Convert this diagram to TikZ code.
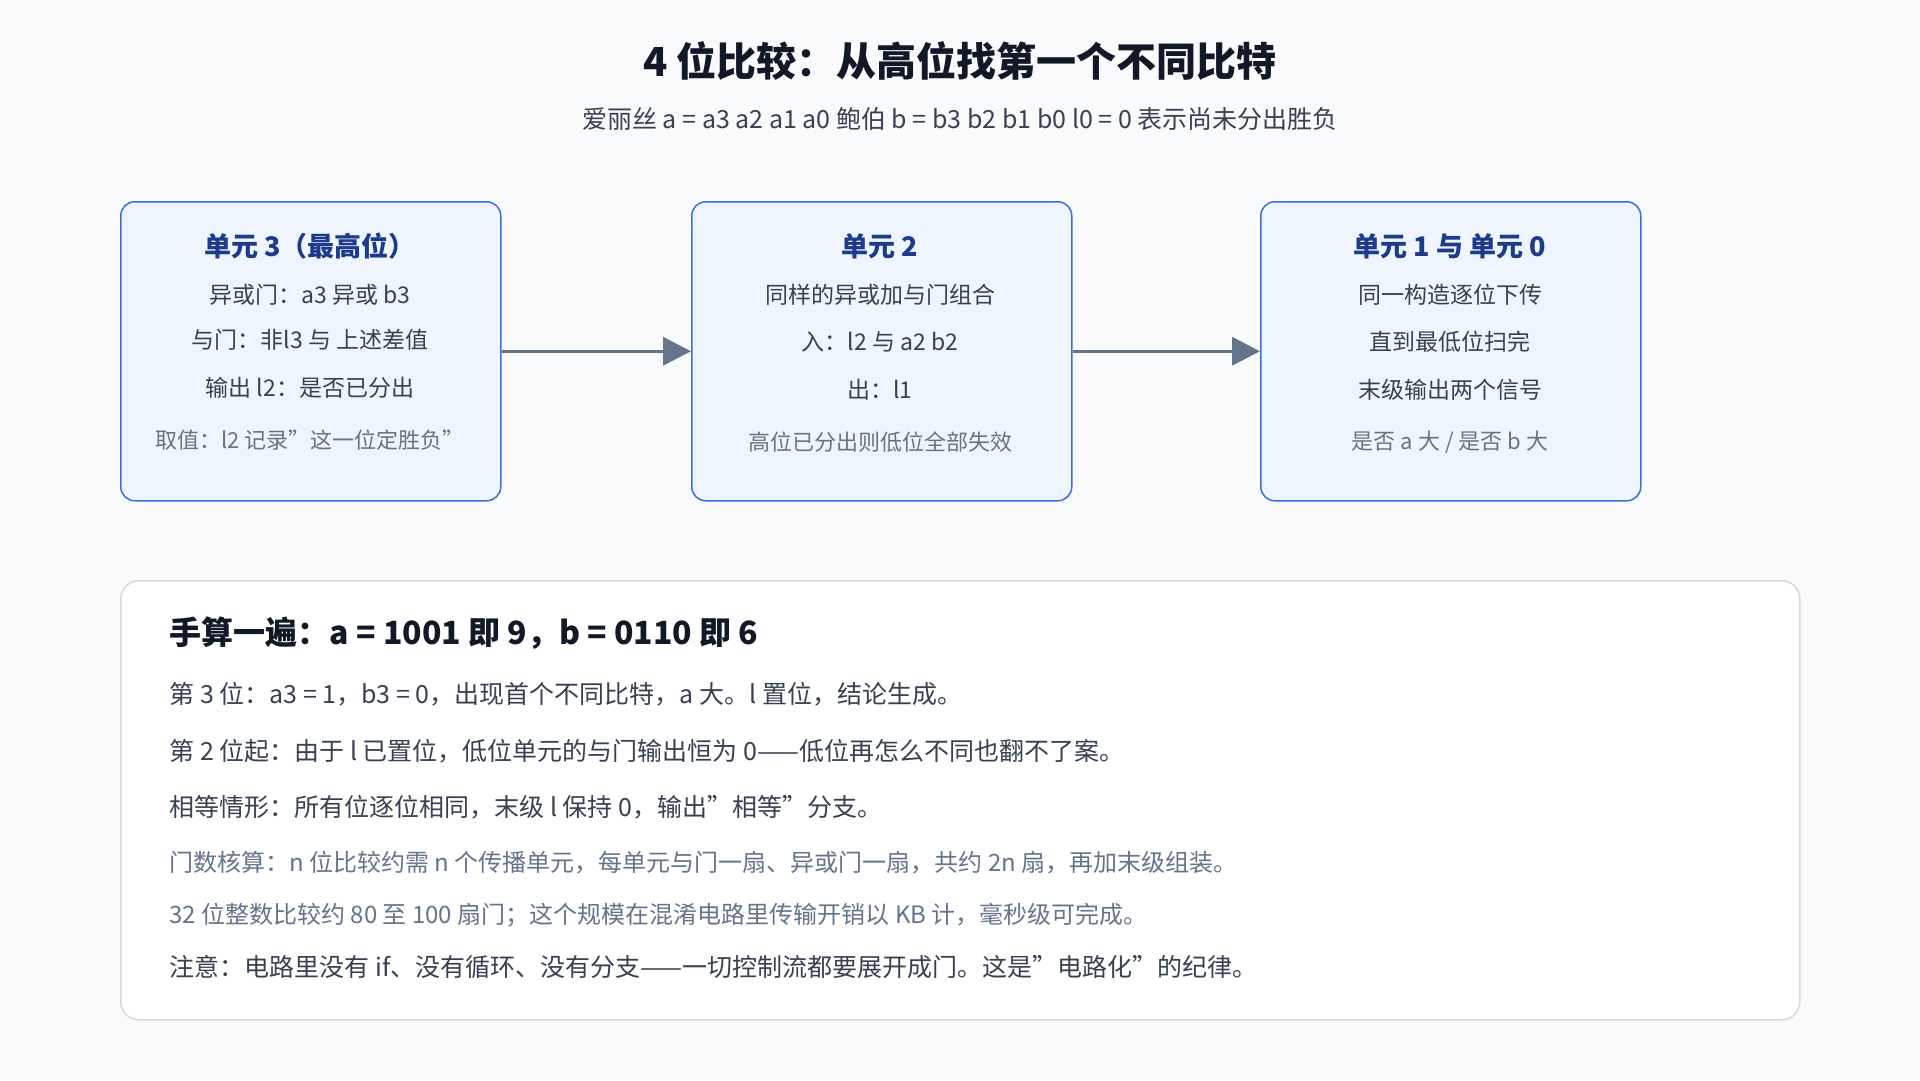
\documentclass[tikz,border=0pt]{standalone}
\usepackage{fontspec}
\setmainfont{Noto Sans CJK SC}
\usetikzlibrary{arrows.meta}
\definecolor{bg}{HTML}{F8FAFC}
\definecolor{boxfill}{HTML}{EEF5FF}
\definecolor{boxline}{HTML}{3B6FE0}
\definecolor{head}{HTML}{1E3A8A}
\definecolor{txt}{HTML}{374151}
\definecolor{muted}{HTML}{6B7280}
\definecolor{slate}{HTML}{64748B}
\definecolor{dark}{HTML}{111827}
\tikzset{
 unit/.style={draw=boxline,line width=1.5pt,fill=boxfill,rounded corners=14pt,minimum width=380pt,minimum height=299pt,anchor=north west},
 hd/.style={font=\fontsize{27}{32}\selectfont\bfseries,text=head},
 ln/.style={font=\fontsize{23}{28}\selectfont,text=txt},
 mt/.style={font=\fontsize{22}{27}\selectfont,text=muted},
 bl/.style={font=\fontsize{25}{30}\selectfont,text=txt,anchor=west},
 bm/.style={font=\fontsize{24}{29}\selectfont,text=slate,anchor=west},
 arr/.style={draw=slate,line width=3.5pt,-{Triangle[length=28pt,width=28pt]}}
}
\begin{document}
\begin{tikzpicture}[x=1pt,y=-1pt]
\fill[bg] (0,0) rectangle (1920,1080);
\useasboundingbox (0,0) rectangle (1920,1080);
\node[font=\fontsize{40}{46}\selectfont\bfseries,text=dark] (title) at (960,61) {4 位比较：从高位找第一个不同比特};
\node[font=\fontsize{25}{30}\selectfont,text=txt] (sub) at (960,119) {爱丽丝 a = a3 a2 a1 a0 鲍伯 b = b3 b2 b1 b0 l0 = 0 表示尚未分出胜负};
\node[unit] (u3) at (120,201) {};
\node[unit] (u2) at (691,201) {};
\node[unit] (u1) at (1260,201) {};
\foreach \n/\x in {u3/310,u2/880,u1/1450}{}
\node[hd] (u3h) at (310,246) {单元 3（最高位）};
\node[ln] (u3a) at (310,295) {异或门：a3 异或 b3};
\node[ln] (u3b) at (310,340) {与门：非l3 与 上述差值};
\node[ln] (u3c) at (310,388) {输出 l2：是否已分出};
\node[mt] (u3d) at (310,440) {取值：l2 记录"这一位定胜负"};
\node[hd] (u2h) at (880,246) {单元 2};
\node[ln] (u2a) at (880,295) {同样的异或加与门组合};
\node[ln] (u2b) at (880,342) {入：l2 与 a2 b2};
\node[ln] (u2c) at (880,390) {出：l1};
\node[mt] (u2d) at (880,442) {高位已分出则低位全部失效};
\node[hd] (u1h) at (1450,246) {单元 1 与 单元 0};
\node[ln] (u1a) at (1450,295) {同一构造逐位下传};
\node[ln] (u1b) at (1450,342) {直到最低位扫完};
\node[ln] (u1c) at (1450,390) {末级输出两个信号};
\node[mt] (u1d) at (1450,442) {是否 a 大 / 是否 b 大};
\draw[arr] (u3.east) -- (u2.west);
\draw[arr] (u2.east) -- (u1.west);
\node[draw=black!15,line width=1.5pt,fill=white,rounded corners=18pt,minimum width=1679pt,minimum height=439pt,anchor=north west] (panel) at (120,580) {};
\node[anchor=west,font=\fontsize{32}{38}\selectfont\bfseries,text=dark] (ph) at (166,633) {手算一遍：a = 1001 即 9，b = 0110 即 6};
\node[bl] (p1) at (166,694) {第 3 位：a3 = 1，b3 = 0，出现首个不同比特，a 大。l 置位，结论生成。};
\node[bl] (p2) at (166,751) {第 2 位起：由于 l 已置位，低位单元的与门输出恒为 0——低位再怎么不同也翻不了案。};
\node[bl] (p3) at (166,807) {相等情形：所有位逐位相同，末级 l 保持 0，输出"相等"分支。};
\node[bm] (p4) at (166,863) {门数核算：n 位比较约需 n 个传播单元，每单元与门一扇、异或门一扇，共约 2n 扇，再加末级组装。};
\node[bm] (p5) at (166,915) {32 位整数比较约 80 至 100 扇门；这个规模在混淆电路里传输开销以 KB 计，毫秒级可完成。};
\node[bl] (p6) at (166,967) {注意：电路里没有 if、没有循环、没有分支——一切控制流都要展开成门。这是"电路化"的纪律。};
\end{tikzpicture}
\end{document}
